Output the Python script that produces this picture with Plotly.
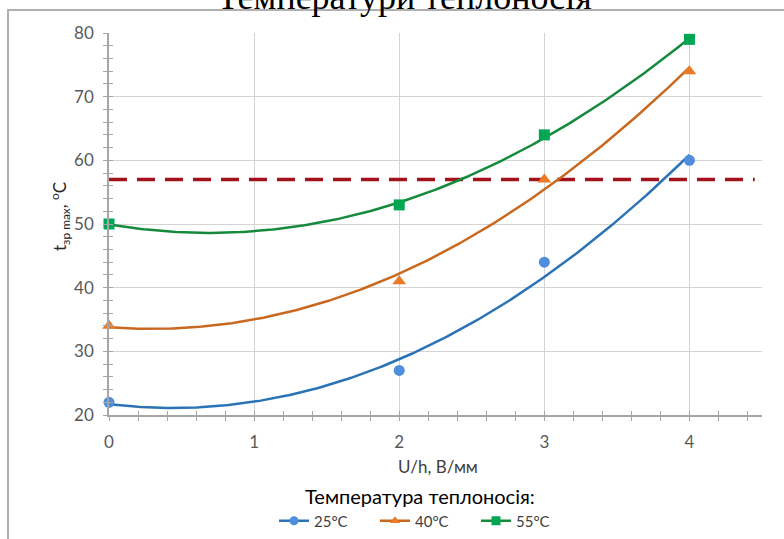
import numpy as np
import plotly.graph_objects as go

# Field strength U/h, V/mm
voltage = [0, 2, 3, 4]

# Maximum temperature for each coolant temperature, °C
t_25 = [22, 27, 44, 60]
t_40 = [34, 41, 57, 74]
t_55 = [50, 53, 64, 79]

# Allowed temperature limit, °C
limit_value = 57
limit_x = [0, 4.45]

series_names = ["25°C", "40°C", "55°C"]
series_values = [t_25, t_40, t_55]
line_colors = ["#2B73B6", "#C9691F", "#168A3C"]
marker_colors = ["#4F8EDC", "#EB7A26", "#00A651"]
marker_symbols = ["circle", "triangle-up", "square"]
marker_sizes = [11, 12, 11]

W, H = 784, 539
L, R, T, B = 109, 22, 33, 124
PW, PH = W - L - R, H - T - B


def px_x(x):
    return (x - L) / PW


def px_y(y):
    return (H - B - y) / PH


fig = go.Figure()

# Limit line
fig.add_trace(go.Scatter(
    x=limit_x, y=[limit_value] * len(limit_x), mode="lines",
    line=dict(color="#A3121A", width=3.5, dash="18px,10px"),
    showlegend=False, hoverinfo="skip",
))

xs = np.array(voltage, dtype=float)
grid = np.linspace(0, 4, 200)
for name, vals, lc, mc, sym, ms in zip(series_names, series_values, line_colors,
                                       marker_colors, marker_symbols, marker_sizes):
    # second-order polynomial trendline
    coef = np.polyfit(xs, np.array(vals, dtype=float), 2)
    fig.add_trace(go.Scatter(
        x=grid, y=np.polyval(coef, grid), mode="lines",
        line=dict(color=lc, width=2.5), showlegend=False, hoverinfo="skip",
        legendgroup=name, cliponaxis=False,
    ))
    fig.add_trace(go.Scatter(
        x=voltage, y=vals, mode="markers",
        marker=dict(symbol=sym, size=ms, color=mc, line=dict(width=0)),
        showlegend=False, legendgroup=name, name=name, cliponaxis=False,
    ))
    # legend entry: line with marker
    fig.add_trace(go.Scatter(
        x=[None], y=[None], mode="lines+markers", name=name, legendgroup=name,
        line=dict(color=lc, width=2.5),
        marker=dict(symbol=sym, size=9, color=mc, line=dict(width=0)),
    ))

# helper trace for the overlay axes (inner half of crossing ticks)
fig.add_trace(go.Scatter(x=[None], y=[None], xaxis="x2", yaxis="y2",
                         showlegend=False, hoverinfo="skip"))

axis_color = "#A6A6A6"
grid_color = "#D4D4D4"
tick_font = dict(family="Lato", size=17, color="#595959")

fig.update_layout(
    width=W, height=H,
    margin=dict(l=L, r=R, t=T, b=B, pad=0, autoexpand=False),
    paper_bgcolor="white", plot_bgcolor="white",
    xaxis=dict(
        range=[0, 4.5], tickvals=[0, 1, 2, 3, 4], ticks="outside", ticklen=4,
        tickcolor=axis_color, showline=True, linecolor=axis_color, linewidth=1.5,
        showgrid=True, gridcolor=grid_color, gridwidth=1, zeroline=False,
        tickfont=tick_font, ticklabelstandoff=7,
        minor=dict(tick0=0, dtick=0.2, ticks="outside", ticklen=4,
                   tickcolor=axis_color, showgrid=False),
    ),
    yaxis=dict(
        range=[20, 80], dtick=10, ticks="outside", ticklen=4,
        tickcolor=axis_color, showline=True, linecolor=axis_color, linewidth=1.5,
        showgrid=True, gridcolor=grid_color, gridwidth=1, zeroline=False,
        tickfont=tick_font, ticklabelstandoff=6,
        minor=dict(tick0=20, dtick=2, ticks="outside", ticklen=4,
                   tickcolor=axis_color, showgrid=False),
    ),
    xaxis2=dict(
        range=[0, 4.5], overlaying="x", anchor="y2", tickvals=[0, 1, 2, 3, 4],
        ticks="inside", ticklen=4, tickcolor=axis_color, showticklabels=False,
        showgrid=False, zeroline=False, showline=False,
        minor=dict(tick0=0, dtick=0.2, ticks="inside", ticklen=4,
                   tickcolor=axis_color, showgrid=False),
    ),
    yaxis2=dict(
        range=[20, 80], overlaying="y", anchor="x2", dtick=10,
        ticks="inside", ticklen=4, tickcolor=axis_color, showticklabels=False,
        showgrid=False, zeroline=False, showline=False,
        minor=dict(tick0=20, dtick=2, ticks="inside", ticklen=4,
                   tickcolor=axis_color, showgrid=False),
    ),
    legend=dict(
        orientation="h", x=px_x(274), y=px_y(521), xanchor="left", yanchor="middle",
        font=dict(family="Lato", size=15, color="#404040"),
        entrywidth=56, entrywidthmode="pixels", bgcolor="rgba(0,0,0,0)",
        itemclick=False,
    ),
    shapes=[dict(
        type="rect", xref="paper", yref="paper",
        x0=px_x(8), x1=1.2, y0=-0.5, y1=px_y(10),
        line=dict(color="#B0B0B0", width=2), fillcolor="rgba(0,0,0,0)", layer="below",
    )],
    annotations=[
        dict(text="Температури теплоносія", xref="paper", yref="paper",
             x=px_x(404), y=px_y(19), xanchor="center", yanchor="bottom",
             showarrow=False, font=dict(family="Liberation Serif", size=36, color="#000000")),
        dict(text="U/h, В/мм", xref="paper", yref="paper",
             x=px_x(438), y=px_y(466), xanchor="center", yanchor="middle",
             showarrow=False, font=dict(family="Lato", size=17, color="#404040")),
        dict(text="t<sub>зр max</sub>, <sup>o</sup>C", xref="paper", yref="paper",
             x=px_x(60), y=px_y(217), xanchor="center", yanchor="middle",
             textangle=-90, showarrow=False,
             font=dict(family="Lato", size=17, color="#262626")),
        dict(text="Температура теплоносія:", xref="paper", yref="paper",
             x=px_x(420), y=px_y(496), xanchor="center", yanchor="middle",
             showarrow=False, font=dict(family="Lato", size=20, color="#000000")),
    ],
)

fig.write_html("out.html")
